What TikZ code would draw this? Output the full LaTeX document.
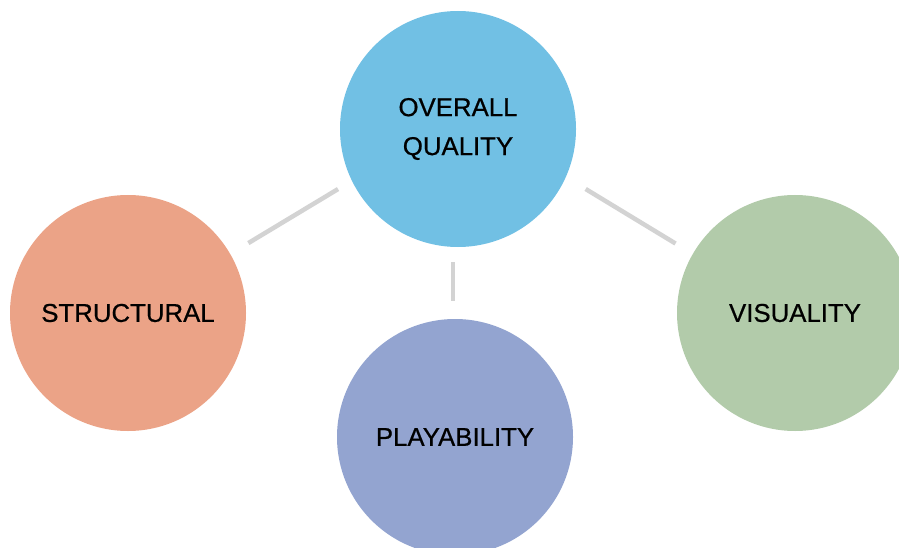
\documentclass[tikz,border=0pt]{standalone}
\usepackage{fontspec}
\setmainfont{Liberation Sans}
\newfontfamily\labelfont{Liberation Sans}[FakeBold=0.6]
\usepackage{xcolor}

\definecolor{qualityblue}{HTML}{71C0E4}
\definecolor{structorange}{HTML}{EBA387}
\definecolor{playpurple}{HTML}{93A4D0}
\definecolor{visgreen}{HTML}{B2CBAA}
\definecolor{linkgray}{HTML}{D3D3D3}

\tikzset{
  aspect/.style={circle, minimum size=236pt, inner sep=0pt, align=center,
    font=\labelfont\fontsize{25.8}{39}\selectfont},
  link/.style={draw=linkgray, line width=4.5pt}
}

\begin{document}
\begin{tikzpicture}[x=1pt, y=-1pt]
\useasboundingbox (0,0) rectangle (899,548);
\clip (0,0) rectangle (899,548);

% the four circles
\node[aspect, fill=qualityblue] (Q) at (458,129) {OVERALL\\QUALITY};
\node[aspect, fill=structorange] (S) at (128,313) {STRUCTURAL};
\node[aspect, fill=playpurple] (P) at (455,437) {PLAYABILITY};
\node[aspect, fill=visgreen] (V) at (795,313) {VISUALITY};

% connectors, kept apart from the circles
\draw[link, shorten <=21pt, shorten >=16pt] (S.30) -- (Q.206);
\draw[link, shorten <=15pt, shorten >=18pt] (Q.south -| 453,0) -- (P.north -| 453,0);
\draw[link, shorten <=23pt, shorten >=20pt] (Q.336) -- (V.150);
\end{tikzpicture}
\end{document}
